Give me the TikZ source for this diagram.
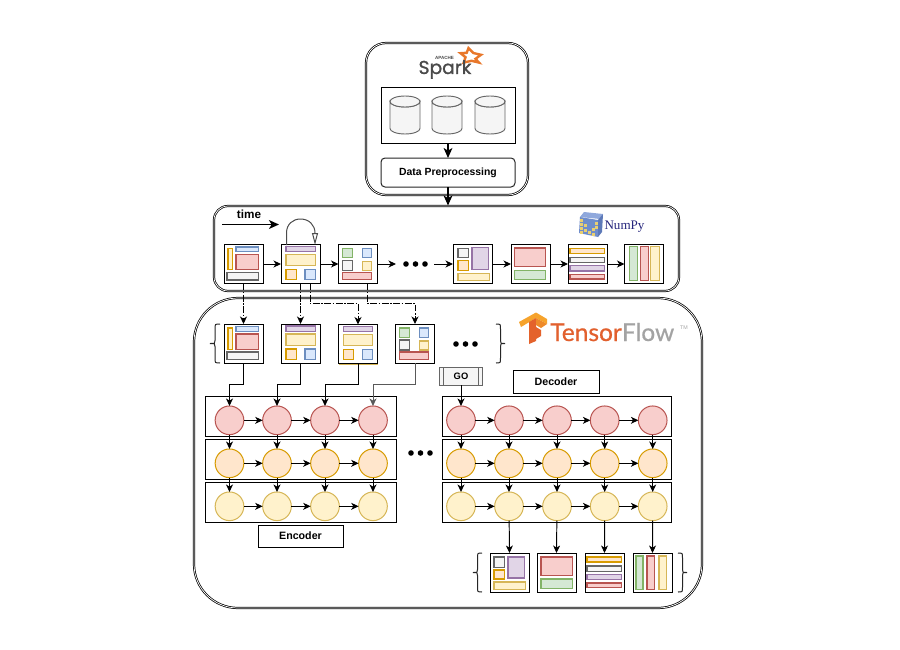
\documentclass[tikz,border=0pt]{standalone}
\usepackage{fontspec}
\setmainfont{Liberation Sans}
\newfontfamily\serifnp{Liberation Serif}
\newfontfamily\tffont[FakeBold=0.6]{Lato}
\newfontfamily\sparkfont[FakeBold=1.2]{Poppins}
\usetikzlibrary{arrows.meta,calc}
\definecolor{redF}{HTML}{F8CECC}\definecolor{redS}{HTML}{B85450}
\definecolor{bluF}{HTML}{DAE8FC}\definecolor{bluS}{HTML}{6C8EBF}
\definecolor{yelF}{HTML}{FFF2CC}\definecolor{yelS}{HTML}{D6B656}
\definecolor{oraF}{HTML}{FFE6CC}\definecolor{oraS}{HTML}{D79B00}
\definecolor{grnF}{HTML}{D5E8D4}\definecolor{grnS}{HTML}{82B366}
\definecolor{purF}{HTML}{E1D5E7}\definecolor{purS}{HTML}{9673A6}
\definecolor{gryF}{HTML}{F5F5F5}\definecolor{gryS}{HTML}{666666}
\definecolor{tfOr}{HTML}{E2602E}\definecolor{tfGr}{HTML}{A3A3A3}
\definecolor{tfLi}{HTML}{F6A32C}\definecolor{tfMd}{HTML}{EE8A2A}\definecolor{tfDk}{HTML}{E4622B}
\definecolor{npBl}{HTML}{8FA8DC}\definecolor{npBm}{HTML}{6F8DCB}\definecolor{npBd}{HTML}{5D79B8}\definecolor{npYe}{HTML}{E8CF72}
\definecolor{sparkOr}{HTML}{E8772A}\definecolor{sparkGr}{HTML}{4A4A4A}
\tikzset{
  x=0.75pt,y=-0.75pt,
  sized/.style 2 args={minimum width=#1*0.75pt,minimum height=#2*0.75pt},
  plainbox/.style={draw=black,line width=0.75pt,fill=white,inner sep=0pt,outer sep=0pt,font=\fontsize{7.8pt}{10pt}\selectfont\bfseries},
  iconbox/.style={plainbox,sized={39}{39}},
  rowbox/.style={draw=black,line width=0.75pt,inner sep=0pt,outer sep=0pt},
  frame/.style={draw=black,line width=0.55pt,double=white,double distance=0.55pt,fill=white},
  cr/.style={fill=redF,draw=redS,line width=0.78pt},
  cb/.style={fill=bluF,draw=bluS,line width=0.78pt},
  cy/.style={fill=yelF,draw=yelS,line width=0.78pt},
  co/.style={fill=oraF,draw=oraS,line width=0.78pt},
  cg/.style={fill=grnF,draw=grnS,line width=0.78pt},
  cp/.style={fill=purF,draw=purS,line width=0.78pt},
  cs/.style={fill=gryF,draw=gryS,line width=0.78pt},
  cc/.style={fill=yelF,draw=oraS,line width=0.78pt},
  nr/.style={circle,fill=redF,draw=redS,line width=0.75pt,minimum size=21.5pt,inner sep=0pt,outer sep=0pt},
  no/.style={circle,fill=oraF,draw=oraS,line width=0.75pt,minimum size=21.5pt,inner sep=0pt,outer sep=0pt},
  ny/.style={circle,fill=yelF,draw=yelS,line width=0.75pt,minimum size=21.5pt,inner sep=0pt,outer sep=0pt},
  link/.style={draw=black,line width=0.72pt,-{Stealth[length=5.6pt,width=5.2pt,inset=1.6pt]}},
  biglink/.style={draw=black,line width=1.05pt,-{Stealth[length=7.5pt,width=6.6pt,inset=2pt]}},
  dlink/.style={link,dash pattern=on 5pt off 1.2pt on 1.2pt off 1.2pt},
  dotmark/.style={circle,fill=black,minimum size=4.2pt,inner sep=0pt},
  bracestyle/.style={draw=black!85,line width=0.75pt},
}
\newcommand{\cell}[5]{\draw[#1] (#2,#3) rectangle (#4,#5);}
\newcommand{\iconA}[1]{\begin{scope}[shift={(#1.north west)}]
 \cell{cc}{4}{4}{8.3}{25.3}\cell{cb}{12}{2.5}{34.3}{7.3}\cell{cr}{12}{10}{34.3}{25.3}\cell{cs}{3}{28}{34.3}{35.5}\end{scope}}
\newcommand{\iconB}[1]{\begin{scope}[shift={(#1.north west)}]
 \cell{cp}{5}{2}{34.3}{7.3}\cell{cy}{5}{10}{34.3}{21.3}\cell{co}{5}{25}{15.3}{35.3}\cell{cb}{24}{25}{34.3}{35.3}\end{scope}}
\newcommand{\iconC}[1]{\begin{scope}[shift={(#1.north west)}]
 \cell{cg}{4}{4}{14.3}{13.3}\cell{cb}{24}{4}{33.3}{13.3}\cell{cs}{4}{16}{14.3}{26}\cell{cy}{24}{17}{33.3}{26}\cell{cr}{4}{28}{33.3}{35.3}\end{scope}}
\newcommand{\iconD}[1]{\begin{scope}[shift={(#1.north west)}]
 \cell{cs}{5}{4}{15.3}{13.3}\cell{cp}{19}{3}{35.3}{25.3}\cell{co}{5}{16}{15.3}{26}\cell{cy}{5}{29}{36.3}{36.3}\end{scope}}
\newcommand{\iconE}[1]{\begin{scope}[shift={(#1.north west)}]
 \cell{cr}{3.5}{3.5}{34.8}{22.3}\cell{cg}{3.5}{26}{34.8}{35.3}\end{scope}}
\newcommand{\iconF}[1]{\begin{scope}[shift={(#1.north west)}]
 \cell{co}{2}{4}{36.3}{9}\cell{cs}{2}{13}{36.3}{18.3}\cell{cp}{2}{21.3}{36.3}{26.5}\cell{cr}{2}{30}{36.3}{34.5}\end{scope}}
\newcommand{\iconG}[1]{\begin{scope}[shift={(#1.north west)}]
 \cell{cg}{5}{2}{13.3}{36.3}\cell{cr}{16}{2}{24.3}{36.3}\cell{cy}{25.7}{2}{34.7}{36.3}\end{scope}}
\newcommand{\iconH}[1]{\begin{scope}[shift={(#1.north west)}]
 \cell{cg}{3}{3}{10}{36.3}\cell{cr}{14}{3}{21.3}{36.3}\cell{cy}{26}{3}{33.3}{36.3}\end{scope}}
\newcommand{\dbcyl}[1]{\begin{scope}[shift={(#1,96)}]
 \draw[cs,line width=0.7pt] (-15,5.5) -- (-15,32.5) arc[start angle=180,end angle=360,x radius=15,y radius=-5.5] -- (15,5.5) arc[start angle=0,end angle=180,x radius=15,y radius=5.5] -- cycle;
 \draw[cs,line width=0.7pt] (-15,5.5) arc[start angle=180,end angle=360,x radius=15,y radius=-5.5] arc[start angle=0,end angle=180,x radius=15,y radius=-5.5] -- cycle;
 \end{scope}}
\newcommand{\cbrace}[5]{\pgfmathsetmacro\ymid{(#4+#5)/2}
 \draw[bracestyle] (#1,#4) .. controls (#2,#4) .. (#2,#4+5) -- (#2,\ymid-3) .. controls (#2,\ymid) .. (#3,\ymid) .. controls (#2,\ymid) .. (#2,\ymid+3) -- (#2,#5-5) .. controls (#2,#5) .. (#1,#5);}
\begin{document}
\begin{tikzpicture}
\useasboundingbox (0,0) rectangle (900,650);
\fill[white] (0,0) rectangle (900,650);

%% outer frames
\node[frame,rounded corners=15pt,sized={162}{152}] (sparkframe) at (447,119) {};
\node[frame,rounded corners=10.5pt,sized={465}{85}] (npframe) at (446.5,248.5) {};
\node[frame,rounded corners=33pt,sized={508}{310}] (tfframe) at (448,453) {};

%% spark logo
\begin{scope}[shift={(470.5,56)}]
 \draw[sparkOr,line width=1.8pt,line join=miter,fill=white] (-2,-8) -- (2.8,-3) -- (10.5,-1.2) -- (5,2.8) -- (8.5,6.6) -- (1,4.8) -- (-6.8,6.6) -- (-5,1.2) -- (-10,-2.8) -- (-3.8,-3.2) -- cycle;
\end{scope}
\node[inner sep=0pt,text=sparkGr] (sparkname) at (445,69.5) {\sparkfont\fontsize{14pt}{15pt}\selectfont Spark};
\node[inner sep=0pt,text=sparkGr] (apachename) at (444.5,58.2) {\fontsize{3.4pt}{4pt}\selectfont\bfseries APACHE};

%% storage
\node[plainbox,sized={134}{56}] (store) at (448,115) {};
\dbcyl{405}\dbcyl{447}\dbcyl{490}
\node[plainbox,draw=black!85,rounded corners=3pt,sized={134}{29}] (prep) at (448,172.5) {Data Preprocessing};
\draw[biglink] (store.south) -- (prep.north);
\coordinate (npin) at (448,205.5);
\draw[biglink] (prep.south) -- (npin);

%% time
\node[inner sep=0pt,font=\fontsize{8.8pt}{10pt}\selectfont\bfseries] (timelabel) at (249,214) {time};
\coordinate (timeA) at (222,224.5);\coordinate (timeB) at (279,224.5);
\draw[biglink,line width=1.4pt] (timeA) -- (timeB);

%% numpy
\node[iconbox] (i1) at (243.5,264) {};\iconA{i1}
\node[iconbox] (i2) at (300.5,264) {};\iconB{i2}
\node[iconbox] (i3) at (358,264) {};\iconC{i3}
\node[iconbox] (i4) at (472.5,264) {};\iconD{i4}
\node[iconbox] (i5) at (530.5,264) {};\iconE{i5}
\node[iconbox] (i6) at (587.5,264) {};\iconF{i6}
\node[iconbox] (i7) at (644,264) {};\iconG{i7}
\node[dotmark] (td1) at (406,264) {};\node[dotmark] (td2) at (415.5,264) {};\node[dotmark] (td3) at (425,264) {};
\draw[link] (i1) -- (i2);
\draw[link] (i2) -- (i3);
\draw[link] (i3) -- ($(td1)+(-10,0)$);
\draw[link] ($(td3)+(9,0)$) -- (i4);
\draw[link] (i4) -- (i5);
\draw[link] (i5) -- (i6);
\draw[link] (i6) -- (i7);
\draw[draw=black!70,line width=0.75pt,-{Triangle[open,length=9pt,width=4.5pt]}] (286.5,245) -- (286.5,233) .. controls (286.5,224) and (293,219) .. (300.5,219) .. controls (309,219) and (315,225) .. (315,233) -- (315,245);

%% numpy logo
\fill[npBl] (584,212) -- (603,214) -- (600,219) -- (580,217) -- cycle;
\fill[npBm] (580,217) -- (598,220) -- (598,237) -- (579,233) -- cycle;
\fill[npBd] (598,220) -- (603,214) -- (602,232) -- (598,237) -- cycle;
\foreach \px/\py in {580/219,580/223,580/227,580/231,584/224,584/229,588/231,592/233,592/228,595/222,595/226}
  \fill[npYe] (\px,\py) rectangle ++(3,3);
\node[inner sep=0pt,text=blue!40!black!85] (nplabel) at (624.5,227) {\serifnp\fontsize{9.8pt}{10pt}\selectfont NumPy};

%% tensorflow logo
\fill[tfLi] (519,322) -- (536,312.5) -- (547,319) -- (547,324) -- (536,318) -- (521,327) -- cycle;
\fill[tfDk] (529,322) -- (536,318) -- (536,341) -- (529,344) -- cycle;
\fill[tfMd] (536,318) -- (547,324) -- (541,328) -- (536,325) -- cycle;
\fill[tfDk] (536,327) -- (541,330) -- (541,336) -- (536,339) -- cycle;
\node[inner sep=0pt,anchor=base west] (tflabel) at (550,341) {\tffont\fontsize{18.4pt}{20pt}\selectfont\textcolor{tfOr}{Tensor}\textcolor{tfGr}{Flow}};
\node[inner sep=0pt,text=black!35] (tmlabel) at (684,328) {\fontsize{4pt}{5pt}\selectfont TM};

%% second row
\node[iconbox] (a) at (243.5,343.5) {};\iconA{a}
\node[iconbox] (b) at (300.5,343.5) {};\iconB{b}
\draw[draw=yelS,line width=1pt] (339,364.6) -- (377.5,364.6);
\node[iconbox] (c) at (358,344) {};\iconB{c}
\node[iconbox] (d) at (415,343.5) {};\iconC{d}
\node[dotmark] (sd1) at (456,344) {};\node[dotmark] (sd2) at (465.5,344) {};\node[dotmark] (sd3) at (475,344) {};
\cbrace{220}{215}{210}{324}{363}
\cbrace{496}{500.5}{505}{324}{363}

\draw[dlink] (i1.south) -- (a.north);
\draw[dlink] (i2.south) -- (b.north);
\draw[dlink] ($(i2.south)+(9.5,0)$) -- ++(0,20) -| (c.north);
\draw[dlink] ($(i3.south)+(9.5,0)$) -- ++(0,20) -| (d.north);

%% rows
\node[rowbox,sized={191}{39.5}] (er1) at (301.2,416.4) {};
\node[rowbox,sized={191}{40}] (er2) at (301.2,459) {};
\node[rowbox,sized={191}{40}] (er3) at (301.2,502) {};
\node[rowbox,sized={228.5}{39.5}] (dr1) at (556.8,416.4) {};
\node[rowbox,sized={228.5}{40}] (dr2) at (556.8,459) {};
\node[rowbox,sized={228.5}{40}] (dr3) at (556.8,502) {};

\foreach \n/\x in {1/229.5,2/277,3/325,4/373}{
 \node[nr] (e1\n) at (\x,420.3) {};
 \node[no] (e2\n) at (\x,463.3) {};
 \node[ny] (e3\n) at (\x,506.3) {};
}
\foreach \n/\x in {1/461,2/509,3/557,4/604.7,5/652.7}{
 \node[nr] (d1\n) at (\x,420.3) {};
 \node[no] (d2\n) at (\x,463.3) {};
 \node[ny] (d3\n) at (\x,506.3) {};
}
\foreach \r in {1,2,3}{
 \foreach \p/\q in {1/2,2/3,3/4}{\draw[link] (e\r\p) -- (e\r\q);}
 \foreach \p/\q in {1/2,2/3,3/4,4/5}{\draw[link] (d\r\p) -- (d\r\q);}
}
\foreach \n in {1,2,3,4}{
 \draw[link] (e1\n) -- (e2\n);
 \draw[link] (e2\n) -- (e3\n);
}
\foreach \n in {1,2,3,4,5}{
 \draw[link] (d1\n) -- (d2\n);
 \draw[link] (d2\n) -- (d3\n);
}
\draw[link] (a.south) -- ++(0,21) -| (e11.north);
\draw[link] (b.south) -- ++(0,21) -| (e12.north);
\draw[link] (c.south) -- ++(0,20.5) -| (e13.north);
\draw[link,draw=black!65] (d.south) -- ++(0,21) -| (e14.north);

\node[dotmark] (md1) at (411,453) {};\node[dotmark] (md2) at (420.5,453) {};\node[dotmark] (md3) at (430,453) {};

\node[plainbox,sized={85}{22},font=\fontsize{8pt}{10pt}\selectfont\bfseries] (enc) at (300.5,536) {Encoder};
\node[plainbox,sized={86}{23},font=\fontsize{8pt}{10pt}\selectfont\bfseries] (dec) at (556,381.5) {Decoder};

\node[plainbox,draw=gryS,fill=gryF,line width=0.75pt,sized={43.5}{18},font=\fontsize{7pt}{8pt}\selectfont\bfseries] (go) at (461,376) {GO};
\draw[draw=gryS,line width=0.75pt] ($(go.north west)+(4,0)$) -- ($(go.south west)+(4,0)$);
\draw[draw=gryS,line width=0.75pt] ($(go.north east)+(-4,0)$) -- ($(go.south east)+(-4,0)$);
\draw[link] (go.south) -- (d11.north);

%% output icons
\node[iconbox] (o1) at (509.5,572.5) {};
\begin{scope}[shift={(o1.north west)}]
 \cell{cs}{4}{4}{14.3}{14.3}\cell{cp}{18}{4}{34.3}{25}\cell{co}{4}{17}{14.3}{26}\cell{cy}{4}{29}{35.3}{36.3}
\end{scope}
\node[iconbox] (o2) at (556.5,572.5) {};
\begin{scope}[shift={(o2.north west)}]
 \cell{cr}{4}{4}{35.3}{22.3}\cell{cg}{4}{26}{35.3}{35.3}
\end{scope}
\node[iconbox] (o3) at (604.5,572.5) {};\iconF{o3}
\node[iconbox] (o4) at (652.5,572.5) {};\iconH{o4}
\draw[link] (d32) -- (o1.north);
\draw[link] (d33) -- (o2.north);
\draw[link] (d34) -- (o3.north);
\draw[link] (d35) -- (o4.north);
\cbrace{482}{477.5}{473}{553}{592}
\cbrace{678}{682.5}{687}{553}{592}
\end{tikzpicture}
\end{document}
